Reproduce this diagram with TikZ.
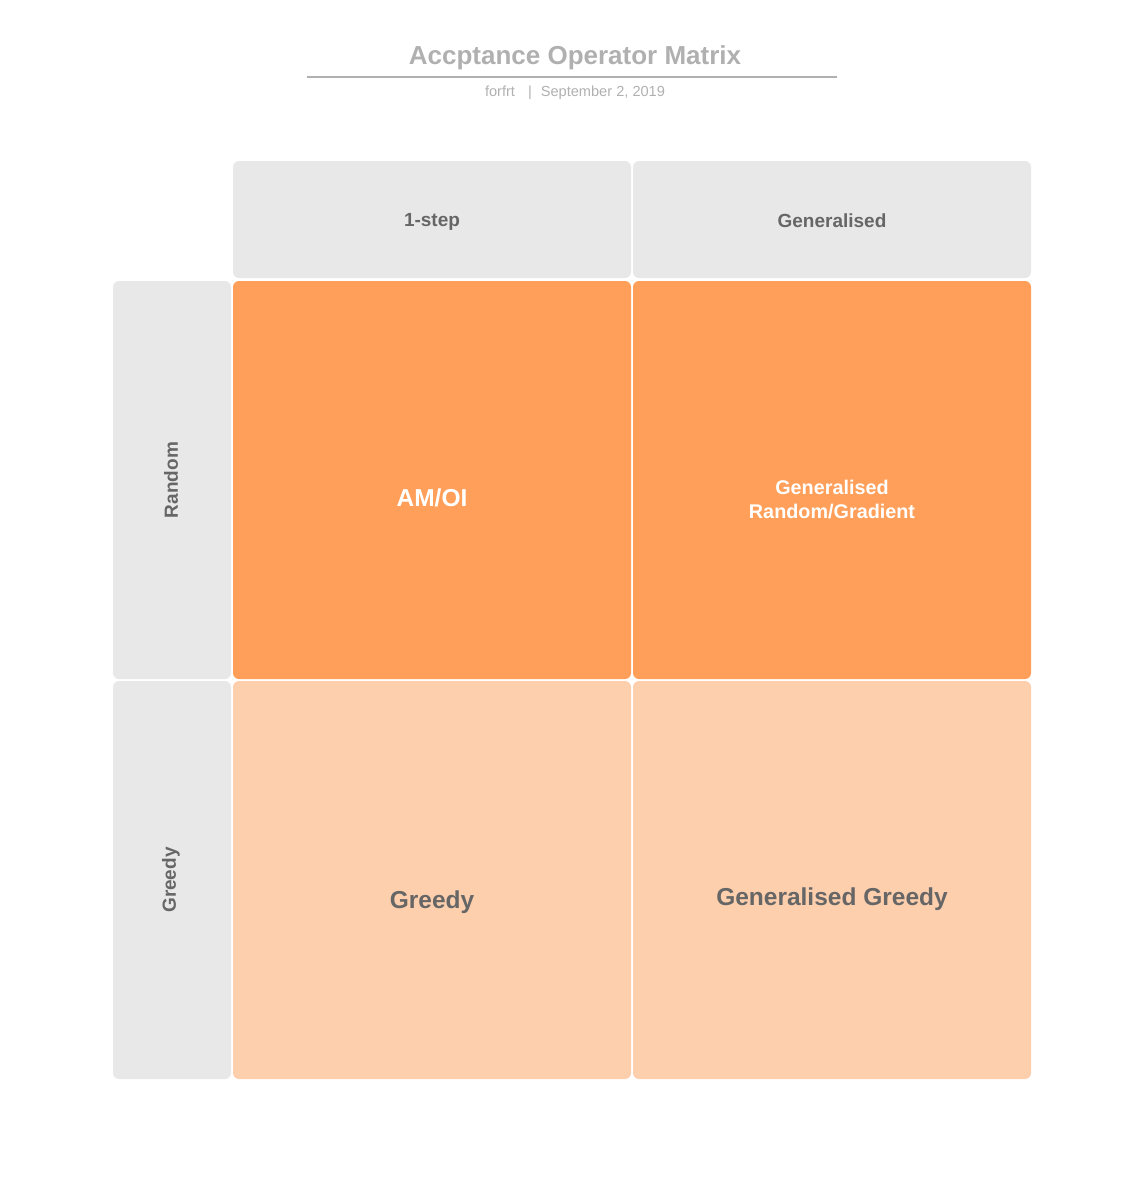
\documentclass[tikz,border=0pt]{standalone}
\usepackage{fontspec}
\setmainfont{Liberation Sans}
\usepackage{xcolor}
\definecolor{cellgrey}{HTML}{E8E8E8}
\definecolor{hotorange}{HTML}{FF9F59}
\definecolor{paleorange}{HTML}{FECFAD}
\definecolor{labelgrey}{HTML}{666666}
\definecolor{titlegrey}{HTML}{B0B0B0}
\tikzset{
cell/.style={rounded corners=6pt, inner sep=0pt},
header/.style={cell, fill=cellgrey, minimum width=398pt, minimum height=117pt},
side/.style={cell, fill=cellgrey, minimum width=118pt, minimum height=398pt},
hot/.style={cell, fill=hotorange, minimum width=398pt, minimum height=398pt},
pale/.style={cell, fill=paleorange, minimum width=398pt, minimum height=398pt},
celltext/.style={align=center, font=\bfseries\fontsize{#1}{24}\selectfont},
celltext/.default=19
}

\begin{document}
\begin{tikzpicture}[x=1pt,y=-1pt]
\useasboundingbox (0,0) rectangle (1148,1184);
% title block
\node[text=titlegrey, font=\bfseries\fontsize{26}{30}\selectfont] (title) at (575,58) {Accptance Operator Matrix};
\coordinate (ruleL) at (307,77);
\coordinate (ruleR) at (837,77);
\draw[titlegrey, line width=1.8pt] (ruleL) -- (ruleR);
\node[text=titlegrey, font=\fontsize{14.6}{16}\selectfont] (subtitle) at (575,93) {forfrt\hspace{13pt}|\hspace{9pt}September 2, 2019};
% column headers
\node[header] (colA) at (432,219.5) {};
\node[header] (colB) at (832,219.5) {};
\node[celltext, text=labelgrey] (colAtext) at (432,222) {1-step};
\node[celltext, text=labelgrey] (colBtext) at (832,221) {Generalised};
% row labels
\node[side] (rowA) at (172,480) {};
\node[side] (rowB) at (172,880) {};
\node[celltext, text=labelgrey, rotate=90] (rowAtext) at (171,480) {Random};
\node[celltext, text=labelgrey, rotate=90] (rowBtext) at (171,880) {Greedy};
% cells
\node[hot] (amoi) at (432,480) {};
\node[hot] (genrand) at (832,480) {};
\node[pale] (greedy) at (432,880) {};
\node[pale] (gengreedy) at (832,880) {};
\node[celltext=24.5, text=white] (amoitext) at (432,498) {AM/OI};
\node[celltext=19.8, text=white] (genrandtext) at (832,500) {Generalised\\Random/Gradient};
\node[celltext=24.5, text=labelgrey] (greedytext) at (432,902) {Greedy};
\node[celltext=24.5, text=labelgrey] (gengreedytext) at (832,899) {Generalised Greedy};
\end{tikzpicture}
\end{document}
